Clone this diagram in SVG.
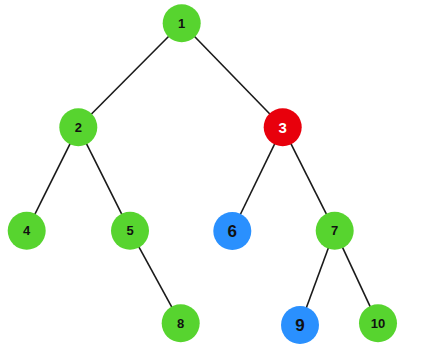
<svg xmlns="http://www.w3.org/2000/svg" width="423" height="359" viewBox="0 0 423 359">
<style>
.e{stroke:#1a1a1a;stroke-width:1.6;fill:none}
.g{fill:#57d42f}
.r{fill:#e8000c}
.b{fill:#2a90fe}
.t{font-family:"Liberation Sans",Arial,sans-serif;font-weight:bold;font-size:13px;fill:#111;text-anchor:middle;dominant-baseline:central}
.tl{font-size:17px}
.w{fill:#fff;font-size:15px}
</style>
<rect width="423" height="359" fill="#fff"/>
<g id="connectors">
<line class="e" x1="181.7" y1="23.3" x2="78.3" y2="127.3"/>
<line class="e" x1="181.7" y1="23.3" x2="282.7" y2="127.3"/>
<line class="e" x1="78.3" y1="127.3" x2="26.7" y2="230.7"/>
<line class="e" x1="78.3" y1="127.3" x2="130" y2="230.7"/>
<line class="e" x1="282.7" y1="127.3" x2="232.3" y2="231"/>
<line class="e" x1="282.7" y1="127.3" x2="334.7" y2="230.7"/>
<line class="e" x1="130" y1="230.7" x2="180.7" y2="323.3"/>
<line class="e" x1="334.7" y1="230.7" x2="300" y2="325"/>
<line class="e" x1="334.7" y1="230.7" x2="378" y2="323.3"/>
</g>
<g id="n1"><circle class="g" cx="181.7" cy="23.3" r="19"/><text class="t" x="181.7" y="23.3">1</text></g>
<g id="n2"><circle class="g" cx="78.3" cy="127.3" r="19"/><text class="t" x="78.3" y="127.3">2</text></g>
<g id="n3"><circle class="r" cx="282.7" cy="127.3" r="19"/><text class="t w" x="282.7" y="127.3">3</text></g>
<g id="n4"><circle class="g" cx="26.7" cy="230.7" r="19"/><text class="t" x="26.7" y="230.7">4</text></g>
<g id="n5"><circle class="g" cx="130" cy="230.7" r="19"/><text class="t" x="130" y="230.7">5</text></g>
<g id="n6"><circle class="b" cx="232.3" cy="231" r="19"/><text class="t tl" x="232.3" y="231">6</text></g>
<g id="n7"><circle class="g" cx="334.7" cy="230.7" r="19"/><text class="t" x="334.7" y="230.7">7</text></g>
<g id="n8"><circle class="g" cx="180.7" cy="323.3" r="19"/><text class="t" x="180.7" y="323.3">8</text></g>
<g id="n9"><circle class="b" cx="300" cy="325" r="19"/><text class="t tl" x="300" y="325">9</text></g>
<g id="n10"><circle class="g" cx="378" cy="323.3" r="19"/><text class="t" x="378" y="323.3">10</text></g>
</svg>
